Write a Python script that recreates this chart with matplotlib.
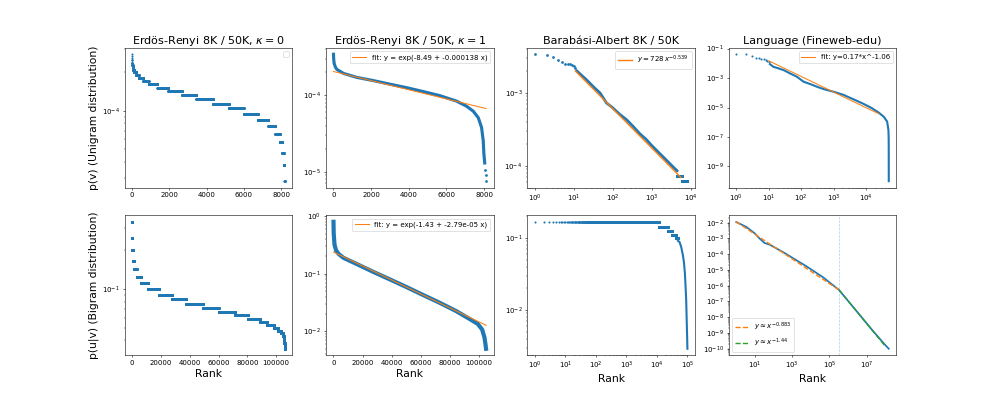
"""Rank plots of unigram / bigram distributions for graphs and language."""

import numpy as np
import matplotlib
import matplotlib.pyplot as plt

matplotlib.use("Agg")

# Erdos-Renyi, kappa = 0: degree -> number of nodes
er0_degree = [29, 28, 27, 26, 25, 24, 23, 22, 21, 20, 19, 18, 17, 16,
              15, 14, 13, 12, 11, 10, 9, 8, 7, 6, 5, 4, 3]
er0_nodes = [1, 1, 1, 3, 7, 14, 28, 50, 110, 140, 245, 285, 475, 585,
             745, 760, 900, 850, 790, 760, 565, 375, 240, 130, 80, 40, 12]

# Erdos-Renyi, kappa = 1
er1_uni_rank = [0, 10, 35, 100, 177, 530, 1237, 2120, 3004, 3887, 4770, 5654,
                6537, 7067, 7420, 7686, 7862, 7951, 7986, 8030]
er1_uni_p = [3.46e-4, 3.0e-4, 2.62e-4, 2.35e-4, 2.19e-4, 1.94e-4, 1.72e-4,
             1.56e-4, 1.40e-4, 1.26e-4, 1.12e-4, 9.9e-5, 8.4e-5, 7.2e-5,
             6.2e-5, 5.1e-5, 3.8e-5, 2.54e-5, 1.71e-5, 1.3e-5]
er1_uni_tail_rank = [8070, 8085, 8100]
er1_uni_tail_p = [1.06e-5, 9.1e-6, 7.5e-6]
er1_uni_fit = (-8.49, -0.000138)

er1_bi_rank = [0, 150, 700, 1800, 3400, 6800, 16000, 27400, 38800, 50200,
               61600, 73000, 84500, 93600, 99300, 102300, 103900, 104600, 105000]
er1_bi_p = [0.80, 0.50, 0.32, 0.255, 0.223, 0.19, 0.148, 0.108, 0.080, 0.059,
            0.043, 0.0315, 0.0225, 0.0165, 0.0135, 0.0108, 0.0079, 0.006, 0.005]
er1_bi_fit = (-1.43, -2.79e-05)

# Barabasi-Albert
ba_uni_head_rank = [1, 2, 3, 4, 5, 6, 7, 8, 9, 10, 11]
ba_uni_head_p = [3.40e-3, 3.33e-3, 3.16e-3, 2.79e-3, 2.65e-3, 2.51e-3,
                 2.50e-3, 2.46e-3, 2.41e-3, 2.33e-3, 2.20e-3]
ba_uni_body_rank = [12, 21, 32, 47, 69, 98, 150, 222, 327, 484, 717, 1000,
                    1575, 2330, 3450, 4430]
ba_uni_body_p = [2.0e-3, 1.52e-3, 1.21e-3, 1.0e-3, 7.3e-4, 6.3e-4, 5.1e-4,
                 4.33e-4, 3.51e-4, 2.79e-4, 2.31e-4, 1.9e-4, 1.49e-4,
                 1.21e-4, 9.8e-5, 8.6e-5]
ba_uni_low_degree = [7, 6]
ba_uni_low_nodes = [1500, 2262]
ba_unit = 1.03e-5
ba_fit = (7.28e-3, -0.539)
ba_fit_range = [11, 5600]

ba_bi_degree = [6, 7, 8, 9, 10]
ba_bi_entries = [11800, 11400, 8800, 9200, 7800]
ba_bi_tail_rank = [49000, 55600, 63000, 71300, 76900, 82900, 87100, 91300,
                   93600, 95900, 98300, 100000]
ba_bi_tail_p = [0.091, 0.087, 0.074, 0.057, 0.046, 0.032, 0.021, 0.0137,
                0.009, 0.0059, 0.0040, 0.0029]

# Language (Fineweb-edu)
lang_head_rank = [1, 2, 3, 4, 5, 6, 7, 8, 9, 10]
lang_head_p = [4.14e-2, 4.14e-2, 3.03e-2, 2.47e-2, 2.34e-2, 2.11e-2, 1.9e-2,
               1.62e-2, 1.55e-2, 1.26e-2]
lang_body_rank = [11, 14, 18, 29, 46, 74, 120, 192, 308, 495, 1010, 2050,
                  4170, 8500, 15300, 24600, 35000, 44700, 49000, 50000,
                  50150, 50220, 50257]
lang_body_p = [8.7e-3, 5.75e-3, 4.9e-3, 3.47e-3, 2.04e-3, 1.23e-3, 5.6e-4,
               3.9e-4, 2.57e-4, 1.78e-4, 1.17e-4, 7.1e-5, 3.55e-5, 1.74e-5,
               8.9e-6, 4.5e-6, 2.4e-6, 1.12e-6, 3.0e-7, 6.5e-8, 8.1e-9,
               1.0e-9, 1.0e-10]
lang_fit = (0.17, -1.06)
lang_fit_range = [10, 25000]

lang_bi_rank = [1, 3.45, 10, 17.9, 33, 62, 320, 1020, 5750, 45300, 328000,
                2.82e6, 2.21e7, 9.3e7, 1.55e8]
lang_bi_p = [1.11e-2, 5.5e-3, 2.1e-3, 1.0e-3, 5.2e-4, 4.1e-4, 1.38e-4,
             6.0e-5, 1.74e-5, 3.47e-6, 5.4e-7, 2.5e-8, 1.32e-9, 1.86e-10,
             9.8e-11]
lang_bi_break = 3.3e5
lang_bi_fit1_rank = [1, 3.3e5]
lang_bi_fit1_p = [1.15e-2, 5.4e-7]
lang_bi_fit2_rank = [3.3e5, 9.3e7]
lang_bi_fit2_p = [5.4e-7, 1.6e-10]

TICK_SIZE = 10
LABEL_SIZE = 15.5
TITLE_SIZE = 16
LEGEND_SIZE = 10
DOT = dict(linestyle="none", marker="o", markersize=3, markeredgewidth=0,
           color="C0")
BIGDOT = dict(DOT, markersize=4)


def er0_unigram():
    deg = np.repeat(er0_degree, er0_nodes)
    return np.arange(len(deg)), deg / deg.sum()


def er0_bigram():
    order = np.argsort(er0_degree)
    degs = np.array(er0_degree)[order]
    counts = np.array(er0_nodes)[order] * degs
    vals = np.repeat(1.0 / degs, counts)
    return np.arange(len(vals)), vals


def expand(levels, counts, start):
    vals = np.repeat(levels, counts)
    return np.arange(start, start + len(vals)), vals


plt.rcParams["xtick.labelsize"] = TICK_SIZE
plt.rcParams["ytick.labelsize"] = TICK_SIZE
plt.rcParams["legend.fontsize"] = LEGEND_SIZE

fig, axes = plt.subplots(2, 4, figsize=(19.92, 7.98))

# ---- top row: unigram ----
ax = axes[0, 0]
x, y = er0_unigram()
ax.plot(x, y, **DOT)
ax.set_yscale("log")
ax.legend()
ax.set_title(r"Erdös-Renyi 8K / 50K, $\kappa = 0$", fontsize=TITLE_SIZE)
ax.set_ylabel("p(v) (Unigram distribution)", fontsize=LABEL_SIZE)

ax = axes[0, 1]
ax.plot(er1_uni_rank, er1_uni_p, color="C0", lw=4.5)
ax.plot(er1_uni_tail_rank, er1_uni_tail_p, **BIGDOT)
fx = np.array([0, er1_uni_tail_rank[-1]])
ax.plot(fx, np.exp(er1_uni_fit[0] + er1_uni_fit[1] * fx), color="C1",
        label="fit: y = exp(-8.49 + -0.000138 x)")
ax.set_yscale("log")
ax.legend(loc="upper right")
ax.set_title(r"Erdös-Renyi 8K / 50K, $\kappa = 1$", fontsize=TITLE_SIZE)

ax = axes[0, 2]
ax.plot(ba_uni_head_rank, ba_uni_head_p, **BIGDOT)
ax.plot(ba_uni_body_rank, ba_uni_body_p, color="C0", lw=4)
x, y = expand(ba_uni_low_degree, ba_uni_low_nodes, ba_uni_body_rank[-1] + 1)
ax.plot(x, y * ba_unit, **BIGDOT)
fx = np.array(ba_fit_range, dtype=float)
ax.plot(fx, ba_fit[0] * fx ** ba_fit[1], color="C1", lw=2,
        label=r"$y = 728\,x^{-0.539}$")
ax.set_xscale("log")
ax.set_yscale("log")
ax.legend(loc="upper right")
ax.set_title("Barabási-Albert 8K / 50K", fontsize=TITLE_SIZE)

ax = axes[0, 3]
ax.plot(lang_head_rank, lang_head_p, **DOT)
ax.plot(lang_body_rank, lang_body_p, color="C0", lw=3)
fx = np.array(lang_fit_range, dtype=float)
ax.plot(fx, lang_fit[0] * fx ** lang_fit[1], color="C1",
        label="fit: y=0.17*x^-1.06")
ax.set_xscale("log")
ax.set_yscale("log")
ax.set_yticks([1e-1, 1e-3, 1e-5, 1e-7, 1e-9])
ax.legend(loc="upper right")
ax.set_title("Language (Fineweb-edu)", fontsize=TITLE_SIZE)

# ---- bottom row: bigram ----
ax = axes[1, 0]
x, y = er0_bigram()
ax.plot(x, y, **DOT)
ax.set_yscale("log")
ax.set_ylabel("p(u|v) (Bigram distribution)", fontsize=LABEL_SIZE)

ax = axes[1, 1]
ax.plot(er1_bi_rank, er1_bi_p, color="C0", lw=6)
fx = np.array([0, er1_bi_rank[-1]])
ax.plot(fx, np.exp(er1_bi_fit[0] + er1_bi_fit[1] * fx), color="C1",
        label="fit: y = exp(-1.43 + -2.79e-05 x)")
ax.set_yscale("log")
ax.legend(loc="upper right")

ax = axes[1, 2]
x, y = expand(1.0 / np.array(ba_bi_degree), ba_bi_entries, 1)
ax.plot(x, y, **DOT)
ax.plot(ba_bi_tail_rank, ba_bi_tail_p, color="C0", lw=3)
ax.set_xscale("log")
ax.set_yscale("log")

ax = axes[1, 3]
ax.plot(lang_bi_rank, lang_bi_p, color="C0", lw=2.5)
ax.plot(lang_bi_fit1_rank, lang_bi_fit1_p, "--", color="C1", lw=2,
        label=r"$y \approx x^{-0.883}$")
ax.plot(lang_bi_fit2_rank, lang_bi_fit2_p, "--", color="C2", lw=2,
        label=r"$y \approx x^{-1.44}$")
ax.axvline(lang_bi_break, color="C0", ls="--", lw=1, alpha=0.35)
ax.set_xscale("log")
ax.set_yscale("log")
ax.set_xticks([1e1, 1e3, 1e5, 1e7])
ax.legend(loc="lower left")

for ax in axes[1]:
    ax.set_xlabel("Rank", fontsize=LABEL_SIZE)

fig.savefig("out.png", dpi=50)
